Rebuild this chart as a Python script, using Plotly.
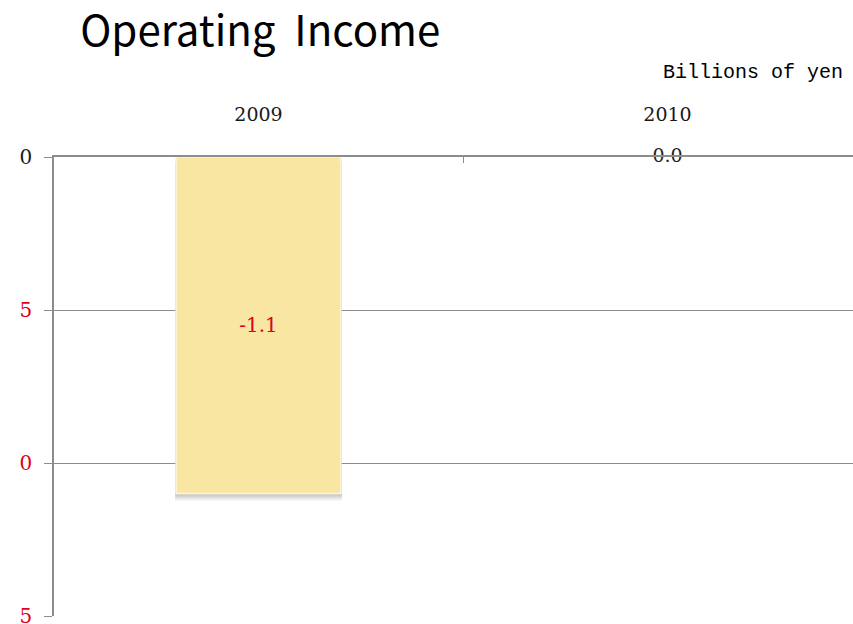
import plotly.graph_objects as go

# Operating income by fiscal year (billions of yen)
years = ["2009", "2010"]
operating_income = [-1.1, 0.0]
value_labels = ["-1.1", "0.0"]

y_tick_values = [0.0, -0.5, -1.0, -1.5]
y_tick_labels = ["0.0", "-0.5", "-1.0", "-1.5"]

NEG = "#E0001B"
AXIS = "#8C8C8C"
SERIF = "DejaVu Serif, serif"

def tick_text(v, s):
    return s if v >= 0 else f"<span style='color:{NEG}'>{s}</span>"

bar_x = [y for y, v in zip(years, operating_income) if v != 0]
bar_y = [v for v in operating_income if v != 0]

fig = go.Figure()

# soft drop shadow under the bar, built from a few translucent layers
for drop, alpha in [(0.024, 0.05), (0.019, 0.07), (0.014, 0.09), (0.009, 0.11)]:
    fig.add_trace(go.Bar(
        x=bar_x, y=bar_y, base=[-drop] * len(bar_y), width=0.408,
        marker=dict(color=f"rgba(80,80,80,{alpha})", line=dict(width=0)),
        hoverinfo="skip", showlegend=False,
    ))

fig.add_trace(go.Bar(
    x=bar_x, y=bar_y, width=0.403,
    marker=dict(color="#F9E6A3", line=dict(color="#FCF4DC", width=1.5)),
    text=[l for l, v in zip(value_labels, operating_income) if v != 0],
    textposition="inside", insidetextanchor="middle",
    textfont=dict(family=SERIF, size=20, color=NEG),
    showlegend=False,
))

# label for the zero-value year sits on the baseline
fig.add_trace(go.Scatter(
    x=[y for y, v in zip(years, operating_income) if v == 0],
    y=[v for v in operating_income if v == 0],
    mode="text",
    text=[l for l, v in zip(value_labels, operating_income) if v == 0],
    textposition="middle center",
    textfont=dict(family=SERIF, size=19, color="#222222"),
    cliponaxis=False, showlegend=False, hoverinfo="skip",
))

fig.update_layout(
    width=853, height=624,
    margin=dict(l=54, r=0, t=157, b=8, autoexpand=False),
    paper_bgcolor="white", plot_bgcolor="white",
    barmode="overlay",
    title=dict(
        text="Operating  Income", x=0.094, xanchor="left", y=0.95, yanchor="middle",
        font=dict(family="Noto Sans CJK JP", size=42, color="black"),
    ),
    annotations=[dict(
        text="Billions of yen", xref="paper", yref="paper", x=0.99, y=1.0,
        xanchor="right", yanchor="middle", yshift=85, showarrow=False,
        font=dict(family="Liberation Mono, DejaVu Sans Mono, monospace", size=20, color="black"),
    )],
    # the left edge of the slide hides most of the value-axis labels
    shapes=[dict(
        type="rect", xref="paper", yref="paper", layer="above",
        x0=-0.08, x1=-0.0438, y0=-0.05, y1=1.05,
        fillcolor="white", line=dict(width=0),
    )],
    xaxis=dict(
        type="category", categoryorder="array", categoryarray=years,
        range=[-0.5, 1.4535], side="top", automargin=False,
        showline=True, linecolor=AXIS, linewidth=1.5,
        ticks="inside", tickson="boundaries", ticklen=6, tickcolor=AXIS,
        ticklabelstandoff=27,
        tickfont=dict(family=SERIF, size=19, color="#1A1A1A"),
        showgrid=False, zeroline=False,
    ),
    yaxis=dict(
        range=[-1.5, 0.0], automargin=False,
        tickvals=y_tick_values,
        ticktext=[tick_text(v, s) for v, s in zip(y_tick_values, y_tick_labels)],
        ticks="outside", ticklen=8, tickcolor=AXIS,
        ticklabelstandoff=8, ticklabeloverflow="allow",
        tickfont=dict(family=SERIF, size=20, color="#1A1A1A"),
        showline=True, linecolor=AXIS, linewidth=1.5,
        showgrid=True, gridcolor=AXIS, gridwidth=1,
        zeroline=False,
    ),
)

fig.write_html("out.html")
